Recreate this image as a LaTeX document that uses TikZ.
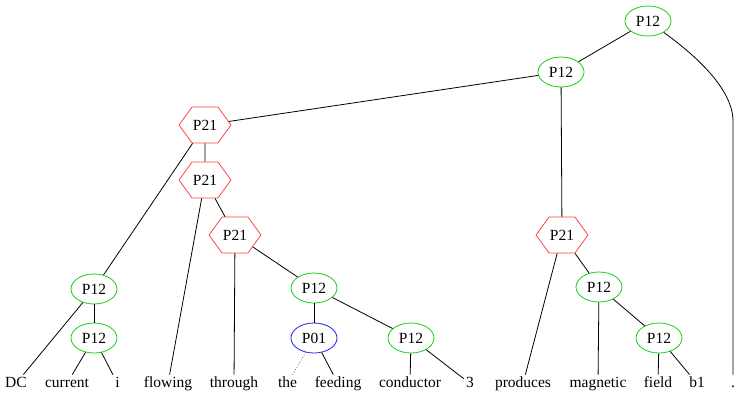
\documentclass[tikz,border=0pt]{standalone}
\usepackage{fontspec}
\setmainfont{Liberation Serif}
\newfontfamily\treefont{Liberation Serif}
\usepackage{tikz}
\usetikzlibrary{shapes.geometric,shapes.symbols}

\definecolor{ellgreen}{RGB}{20,205,20}
\definecolor{hexred}{RGB}{255,70,70}
\definecolor{ellblue}{RGB}{30,30,240}

\begin{document}
\begin{tikzpicture}[x=1bp,y=-1bp,line width=0.8bp,
    lbl/.style={font=\treefont\fontsize{15.5bp}{18bp}\selectfont},
    pell/.style={lbl,ellipse,draw=ellgreen,minimum width=46bp,minimum height=30bp,inner sep=0pt},
    pblue/.style={pell,draw=ellblue},
    phex/.style={lbl,signal,signal to=west and east,signal pointer angle=108,draw=hexred,
      minimum width=52bp,minimum height=36bp,inner sep=0pt},
    word/.style={lbl,anchor=base,text height=10bp,text depth=3bp,inner sep=2bp}]
  \useasboundingbox (0,0) rectangle (738,392);
  % phrase nodes
  \node[pell] (top) at (648,21) {P12};
  \node[pell] (p12a) at (561,72) {P12};
  \node[phex] (p21a) at (205,125) {P21};
  \node[phex] (p21b) at (205,180) {P21};
  \node[phex] (p21c) at (235,235) {P21};
  \node[phex] (p21d) at (562,235) {P21};
  \node[pell] (p12b) at (94,289) {P12};
  \node[pell] (p12c) at (94,338) {P12};
  \node[pell] (p12d) at (314,288) {P12};
  \node[pblue] (p01) at (314,338) {P01};
  \node[pell] (p12e) at (411,338) {P12};
  \node[pell] (p12f) at (599,287) {P12};
  \node[pell] (p12g) at (659,338) {P12};
  % words
  \node[word] (dc) at (16,387) {DC};
  \node[word] (current) at (67,387) {current};
  \node[word] (i) at (117.5,387) {i};
  \node[word] (flowing) at (168,387) {flowing};
  \node[word] (through) at (234,387) {through};
  \node[word] (the) at (287.5,387) {the};
  \node[word] (feeding) at (338,387) {feeding};
  \node[word] (conductor) at (410,387) {conductor};
  \node[word] (three) at (470,387) {3};
  \node[word] (produces) at (523,387) {produces};
  \node[word] (magnetic) at (598,387) {magnetic};
  \node[word] (field) at (658,387) {field};
  \node[word] (b1) at (697,387) {b1};
  \node[word] (dot) at (733,387) {.};
  \coordinate (bend) at (733,120);
  % edges
  \draw (top) -- (p12a);
  \draw (top) .. controls (695,55) and (732,88) .. (bend) -- (dot);
  \draw (p12a) -- (p21a);
  \draw (p12a) -- (p21d);
  \draw (p21a) -- (p12b);
  \draw (p21a) -- (p21b);
  \draw (p21b) -- (flowing);
  \draw (p21b) -- (p21c);
  \draw (p21c) -- (through);
  \draw (p21c) -- (p12d);
  \draw (p12b) -- (dc);
  \draw (p12b) -- (p12c);
  \draw (p12c) -- (current);
  \draw (p12c) -- (i);
  \draw (p12d) -- (p01);
  \draw (p12d) -- (p12e);
  \draw[dotted,black!60] (p01) -- (the);
  \draw (p01) -- (feeding);
  \draw (p12e) -- (conductor);
  \draw (p12e) -- (three);
  \draw (p21d) -- (produces);
  \draw (p21d) -- (p12f);
  \draw (p12f) -- (magnetic);
  \draw (p12f) -- (p12g);
  \draw (p12g) -- (field);
  \draw (p12g) -- (b1);
\end{tikzpicture}
\end{document}
